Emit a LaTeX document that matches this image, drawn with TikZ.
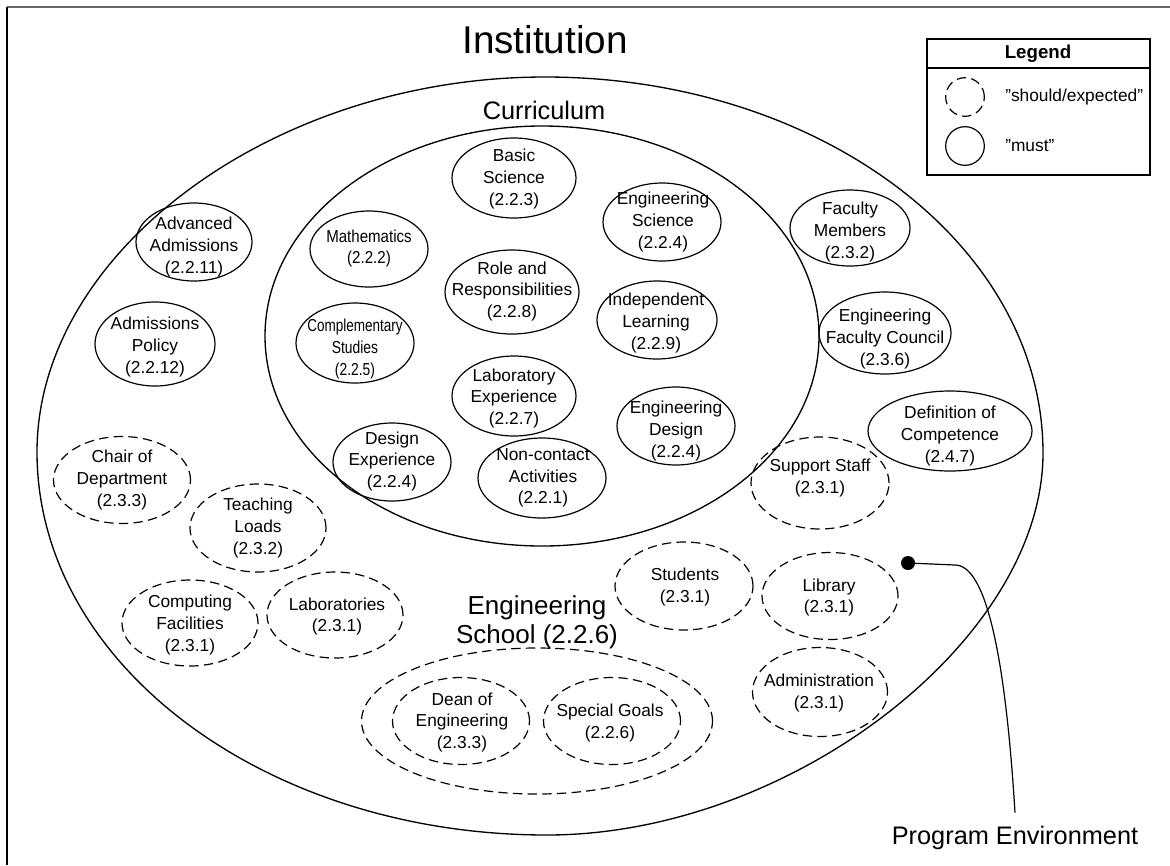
\documentclass[tikz,border=0pt]{standalone}
\usepackage{fontspec}
\usepackage{graphicx}
\setmainfont{Liberation Sans}
\usetikzlibrary{shapes.geometric}
% #1 extra style, #2 name, #3,#4 ellipse centre, #5,#6 width/height (px), #7,#8 text centre, #9 text
\newcommand\EllNode[9][]{%
  \node[eshape,#1,minimum width={#5*0.75pt},minimum height={#6*0.75pt}] (#2e) at (#3,#4) {};
  \node[txt] (#2) at (#7,#8) {#9};}
\newcommand\cnd[2]{\scalebox{#1}[1]{#2}}
\begin{document}
\begin{tikzpicture}[x=0.75pt,y=-0.75pt,
  eshape/.style={ellipse,draw,line width=0.9pt,inner sep=0pt},
  txt/.style={inner sep=0pt,align=center,font=\fontsize{13}{16.2}\selectfont},
  dsh/.style={dash pattern=on 7pt off 4pt},
  lbl/.style={inner sep=0pt,align=center}]
\useasboundingbox (0,0) rectangle (1170,865);
\draw[gray!80!black,line width=0.9pt] (7,7) -- (1170,7);
\draw[line width=0.9pt] (7,7) -- (7,865);

% Titles
\node[lbl,font=\fontsize{29}{30}\selectfont] (inst) at (545,40) {Institution};
\node[lbl,font=\fontsize{19}{20}\selectfont] (curl) at (544,110) {Curriculum};

% Outer boundary (program environment)
\coordinate (envL) at (37,452);
\coordinate (envT) at (545,77);
\coordinate (envR) at (1043,453);
\coordinate (envB) at (547,835);
\draw[line width=1pt] (envL) .. controls (37,252) and (273,77) .. (envT)
  .. controls (820,77) and (1043,245) .. (envR)
  .. controls (1043,640) and (790,835) .. (envB)
  .. controls (265,835) and (37,664) .. cycle;
% Curriculum
\node[eshape,line width=1pt,minimum width=415.5pt,minimum height=315pt] (curr) at (542,336) {};

% Curriculum contents
\EllNode{basic}{514}{178}{124}{80}{514}{179}{Basic\\Science\\(2.2.3)}
\EllNode{math}{369}{249}{118}{76}{369}{248.5}{\cnd{0.87}{Mathematics}\\\cnd{0.87}{(2.2.2)}}
\EllNode{engsci}{662}{222}{118}{78}{663}{222}{Engineering\\Science\\(2.2.4)}
\EllNode{role}{512}{292}{134}{84}{512}{291.5}{Role and\\Responsibilities\\(2.2.8)}
\EllNode{indep}{657}{320}{120}{78}{656}{323}{Independent\\Learning\\(2.2.9)}
\EllNode{comp}{355}{343}{118}{80}{355}{349}{\cnd{0.78}{Complementary}\\\cnd{0.8}{Studies}\\\cnd{0.8}{(2.2.5)}}
\EllNode{lab}{514}{396}{124}{80}{514}{398.5}{Laboratory\\Experience\\(2.2.7)}
\EllNode{engdes}{676}{426}{118}{78}{676}{431}{Engineering\\Design\\(2.2.4)}
\EllNode{desexp}{392}{462}{118}{78}{392}{461.5}{Design\\Experience\\(2.2.4)}
\EllNode{noncon}{542}{478}{128}{80}{543}{478}{Non-contact\\Activities\\(2.2.1)}

% Solid outside curriculum
\EllNode{advadm}{194}{242}{116}{78}{194}{247}{Advanced\\Admissions\\(2.2.11)}
\EllNode{admpol}{155}{344}{120}{84}{155}{347}{Admissions\\Policy\\(2.2.12)}
\EllNode{facmem}{850}{228}{120}{76}{850}{232}{Faculty\\Members\\(2.3.2)}
\EllNode{efc}{885}{333}{132}{82}{885}{339}{Engineering\\Faculty Council\\(2.3.6)}
\EllNode{defcomp}{950}{431}{164}{80}{950}{436}{Definition of\\Competence\\(2.4.7)}

% Dashed
\EllNode[dsh]{chair}{122}{480}{137}{87}{122}{480}{Chair of\\Department\\(2.3.3)}
\EllNode[dsh]{teach}{258}{528}{136}{88}{258}{528}{Teaching\\Loads\\(2.3.2)}
\EllNode[dsh]{compf}{190}{623}{136}{86}{190}{625}{Computing\\Facilities\\(2.3.1)}
\EllNode[dsh]{labs}{335}{615}{136}{86}{337}{616.5}{Laboratories\\(2.3.1)}
\EllNode[dsh]{stud}{684}{586}{138}{88}{685}{587}{Students\\(2.3.1)}
\EllNode[dsh]{libr}{830}{596}{136}{87}{829}{597.5}{Library\\(2.3.1)}
\EllNode[dsh]{admin}{820}{692}{135}{89}{819}{693}{Administration\\(2.3.1)}
\EllNode[dsh]{supp}{820}{483}{138}{92}{820}{478}{Support Staff\\(2.3.1)}

% Engineering School
\node[eshape,dsh,minimum width=263.25pt,minimum height=109.5pt] (school) at (537,721) {};
\node[lbl,font=\fontsize{19.5}{22}\selectfont] (schl) at (537,622) {Engineering\\School (2.2.6)};
\EllNode[dsh]{dean}{461}{721}{137}{87}{462}{722.5}{Dean of\\Engineering\\(2.3.3)}
\EllNode[dsh]{spec}{612}{721}{137}{87}{610}{723}{Special Goals\\(2.2.6)}

% Program environment pointer
\node[circle,fill,inner sep=0pt,minimum size=10.5pt] (pedot) at (908,563) {};
\node[lbl,font=\fontsize{19}{20}\selectfont,anchor=north] (penv) at (1015,826) {Program Environment};
\draw[line width=0.9pt] (pedot.center) -- (955,565) .. controls (985,565) and (1005,650) .. ([yshift=10pt]penv.north);

% Legend
\node[draw,line width=1pt,minimum width=167.25pt,minimum height=102pt,inner sep=0pt] (legbox) at (1038.5,107) {};
\coordinate (lgl) at (927,68);
\coordinate (lgr) at (1150,68);
\draw[line width=0.9pt] (lgl) -- (lgr);
\node[lbl,font=\bfseries\fontsize{14}{16}\selectfont] (legt) at (1038,54) {Legend};
\node[circle,draw,line width=0.9pt,dsh,minimum size=29pt,inner sep=0pt] (leg1) at (965,97) {};
\node[circle,draw,line width=0.9pt,minimum size=29pt,inner sep=0pt] (leg2) at (965,146) {};
\node[lbl,anchor=west,font=\fontsize{13}{16}\selectfont] (legs) at (1005,97) {”should/expected”};
\node[lbl,anchor=west,font=\fontsize{13}{16}\selectfont] (legm) at (1005,146) {”must”};
\end{tikzpicture}
\end{document}
